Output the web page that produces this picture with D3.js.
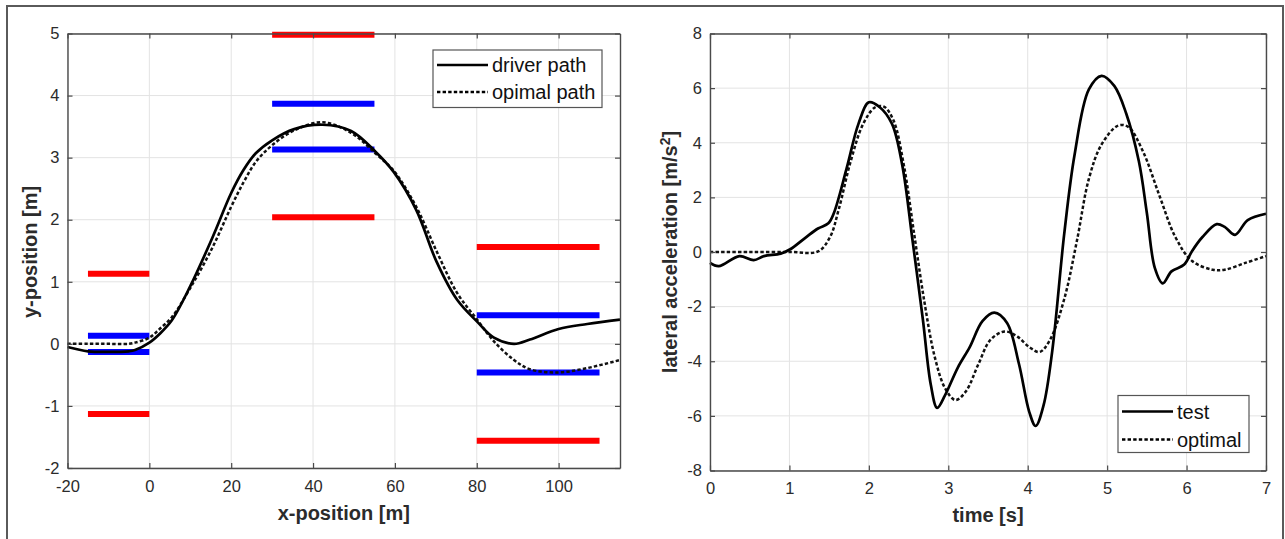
<!DOCTYPE html>
<html>
<head>
<meta charset="utf-8">
<script src="https://cdn.jsdelivr.net/npm/d3@7"></script>
<style>
  html, body { margin: 0; padding: 0; background: #fff; }
  svg { display: block; }
  text { font-family: "Liberation Sans", Arial, Helvetica, sans-serif; }
</style>
</head>
<body>
<svg id="fig" width="1285" height="539"></svg>
<script>
// ---- Left panel: vehicle path through the lane-change gates ----
const pathX      = [-20, -15, -10, -5, -3.5, 0, 2.5, 5.5, 10, 15.4, 20, 23, 26, 30, 35.4, 42.3, 49.3, 55.2, 59.7, 65.2, 70.2, 75.2, 80.2, 84.2, 89.1, 93, 100, 107, 115];
const driverPath = [-0.05, -0.12, -0.13, -0.12, -0.1, 0.02, 0.16, 0.38, 0.93, 1.71, 2.43, 2.8, 3.07, 3.28, 3.46, 3.53, 3.43, 3.10, 2.77, 2.16, 1.32, 0.71, 0.35, 0.10, 0.0, 0.07, 0.24, 0.32, 0.39];
const optimalPath = [0.0, 0.0, 0.0, 0.0, 0.02, 0.1, 0.24, 0.43, 0.9, 1.55, 2.21, 2.6, 2.93, 3.2, 3.44, 3.57, 3.40, 3.07, 2.79, 2.21, 1.49, 0.82, 0.38, 0.04, -0.26, -0.41, -0.46, -0.39, -0.26];

// gate boundaries: [x start, x end, y]
const outerCones = [[-15, 0, 1.13], [-15, 0, -1.13], [30, 55, 4.98], [30, 55, 2.04], [80, 110, 1.56], [80, 110, -1.56]];
const innerCones = [[-15, 0, 0.13], [-15, 0, -0.13], [30, 55, 3.87], [30, 55, 3.13], [80, 110, 0.46], [80, 110, -0.46]];

const leftXTicks = [-20, 0, 20, 40, 60, 80, 100];
const leftYTicks = [-2, -1, 0, 1, 2, 3, 4, 5];
const leftLegend = ["driver path", "opimal path"];

// ---- Right panel: lateral acceleration over time ----
const testT   = [0, 0.11, 0.37, 0.55, 0.68, 0.89, 1.01, 1.2, 1.36, 1.49, 1.56, 1.72, 1.87, 2.0, 2.13, 2.29, 2.42, 2.55, 2.68, 2.78, 2.86, 2.96, 3.12, 3.27, 3.43, 3.58, 3.74, 3.89, 4.02, 4.10, 4.2, 4.31, 4.46, 4.59, 4.77, 4.93, 5.09, 5.24, 5.4, 5.5, 5.6, 5.70, 5.81, 5.97, 6.07, 6.2, 6.38, 6.48, 6.61, 6.77, 7.0];
const testAcc = [-0.4, -0.52, -0.15, -0.3, -0.15, -0.06, 0.1, 0.52, 0.86, 1.05, 1.43, 3.06, 4.7, 5.48, 5.32, 4.7, 3.19, 0.42, -2.47, -4.86, -5.71, -5.24, -4.23, -3.48, -2.53, -2.22, -2.6, -4.1, -5.86, -6.37, -5.61, -3.6, 0.67, 3.56, 5.95, 6.45, 6.08, 5.07, 3.31, 1.43, -0.58, -1.15, -0.71, -0.46, 0.04, 0.55, 1.02, 0.92, 0.63, 1.17, 1.4];
const optT    = [0, 0.5, 1.0, 1.36, 1.51, 1.62, 1.77, 1.93, 2.08, 2.19, 2.31, 2.44, 2.57, 2.7, 2.83, 2.96, 3.09, 3.22, 3.38, 3.53, 3.71, 3.87, 4.02, 4.15, 4.28, 4.46, 4.62, 4.77, 4.93, 5.14, 5.27, 5.45, 5.66, 5.86, 6.07, 6.33, 6.48, 6.74, 7.0];
const optAcc  = [0, 0, 0, 0.02, 0.54, 1.55, 3.31, 4.7, 5.3, 5.32, 4.82, 3.19, 0.67, -1.84, -3.85, -4.99, -5.42, -5.11, -4.1, -3.22, -2.91, -3.1, -3.48, -3.66, -3.22, -1.72, 0.42, 2.68, 3.94, 4.63, 4.57, 3.69, 2.05, 0.54, -0.33, -0.65, -0.65, -0.4, -0.15];

const rightXTicks = [0, 1, 2, 3, 4, 5, 6, 7];
const rightYTicks = [-8, -6, -4, -2, 0, 2, 4, 6, 8];
const rightLegend = ["test", "optimal"];

const svg = d3.select("#fig");

// outer figure frame (open at the bottom)
svg.append("path")
  .attr("d", "M7,539 L7,6 L1283,6 L1283,539")
  .attr("fill", "none").attr("stroke", "#5a5a5a").attr("stroke-width", 2);

const axisColor = "#4a4a4a", gridColor = "#e3e3e3", labelColor = "#2b2b2b";
const dashPattern = "3.4,2.2";

function drawGrid(g, x, y, xTicks, yTicks) {
  const [x0, x1] = x.range(), [y0, y1] = y.range();
  g.append("g").selectAll("line").data(xTicks).join("line")
    .attr("x1", d => x(d)).attr("x2", d => x(d)).attr("y1", y1).attr("y2", y0)
    .attr("stroke", gridColor).attr("stroke-width", 1);
  g.append("g").selectAll("line").data(yTicks).join("line")
    .attr("y1", d => y(d)).attr("y2", d => y(d)).attr("x1", x0).attr("x2", x1)
    .attr("stroke", gridColor).attr("stroke-width", 1);
}

function drawAxes(g, x, y, xTicks, yTicks) {
  const [x0, x1] = x.range(), [y0, y1] = y.range();
  const tl = 5;
  const fmt = d => String(d);
  const style = sel => {
    sel.attr("font-family", null).attr("font-size", null);
    sel.select(".domain").attr("stroke", axisColor).attr("stroke-width", 1.4);
    sel.selectAll(".tick line").attr("stroke", axisColor).attr("stroke-width", 1.2);
    sel.selectAll(".tick text").attr("fill", labelColor).style("font-size", "16.5px");
  };
  g.append("g").attr("transform", `translate(0,${y0})`)
    .call(d3.axisBottom(x).tickValues(xTicks).tickSize(-tl).tickSizeOuter(0).tickPadding(12).tickFormat(fmt))
    .call(style);
  g.append("g").attr("transform", `translate(0,${y1})`)
    .call(d3.axisTop(x).tickValues(xTicks).tickSize(-tl).tickSizeOuter(0).tickFormat(""))
    .call(style);
  g.append("g").attr("transform", `translate(${x0},0)`)
    .call(d3.axisLeft(y).tickValues(yTicks).tickSize(-tl).tickSizeOuter(0).tickPadding(8).tickFormat(fmt))
    .call(style);
  g.append("g").attr("transform", `translate(${x1},0)`)
    .call(d3.axisRight(y).tickValues(yTicks).tickSize(-tl).tickSizeOuter(0).tickFormat(""))
    .call(style);
}

function drawLegend(g, box, names) {
  g.append("rect").attr("x", box.x).attr("y", box.y).attr("width", box.w).attr("height", box.h)
    .attr("fill", "#fff").attr("stroke", "#555").attr("stroke-width", 1.2);
  names.forEach((name, i) => {
    const cy = box.y + box.row0 + i * box.dy;
    g.append("line").attr("x1", box.x + 4).attr("x2", box.x + box.lineLen)
      .attr("y1", cy).attr("y2", cy)
      .attr("stroke", "#000").attr("stroke-width", i === 0 ? 2.7 : 2.5)
      .attr("stroke-dasharray", i === 0 ? null : dashPattern);
    g.append("text").attr("x", box.x + box.lineLen + 4).attr("y", cy + 7)
      .attr("fill", "#111").style("font-size", "20px").text(name);
  });
}

function axisTitle(g, x, y, rotate, parts) {
  const t = g.append("text")
    .attr("transform", `translate(${x},${y})` + (rotate ? " rotate(-90)" : ""))
    .attr("text-anchor", "middle").attr("fill", labelColor)
    .style("font-size", "20px").style("font-weight", "bold");
  parts.forEach(p => {
    const s = t.append("tspan").text(p.text);
    if (p.sup) s.attr("dy", -7).style("font-size", "14px");
    if (p.after) s.attr("dy", 7);
  });
}

const smooth = d3.curveCatmullRom.alpha(0.5);

// ---------- left panel ----------
{
  const x = d3.scaleLinear().domain([-20, 115]).range([67.5, 620]);
  const y = d3.scaleLinear().domain([-2, 5]).range([468, 33.5]);
  const g = svg.append("g");
  drawGrid(g, x, y, leftXTicks, leftYTicks);

  const cone = (data, color) => g.append("g").selectAll("line").data(data).join("line")
    .attr("x1", d => x(d[0])).attr("x2", d => x(d[1]))
    .attr("y1", d => y(d[2])).attr("y2", d => y(d[2]))
    .attr("stroke", color).attr("stroke-width", 6);
  cone(outerCones, "#ff0000");
  cone(innerCones, "#0000ff");

  const line = d3.line().x((d, i) => x(pathX[i])).y(d => y(d)).curve(smooth);
  g.append("path").attr("d", line(optimalPath)).attr("fill", "none")
    .attr("stroke", "#111").attr("stroke-width", 2.5).attr("stroke-dasharray", dashPattern);
  g.append("path").attr("d", line(driverPath)).attr("fill", "none")
    .attr("stroke", "#000").attr("stroke-width", 2.7);

  drawAxes(g, x, y, leftXTicks, leftYTicks);
  drawLegend(g, { x: 433, y: 50, w: 169, h: 57.5, row0: 15, dy: 27, lineLen: 55 }, leftLegend);

  axisTitle(g, (67.5 + 620) / 2, 520, false, [{ text: "x-position [m]" }]);
  axisTitle(g, 37, y(1.48), true, [{ text: "y-position [m]" }]);
}

// ---------- right panel ----------
{
  const x = d3.scaleLinear().domain([0, 7]).range([710, 1266]);
  const y = d3.scaleLinear().domain([-8, 8]).range([470.5, 33.5]);
  const g = svg.append("g");
  drawGrid(g, x, y, rightXTicks, rightYTicks);

  const optLine = d3.line().x((d, i) => x(optT[i])).y(d => y(d)).curve(smooth);
  const testLine = d3.line().x((d, i) => x(testT[i])).y(d => y(d)).curve(smooth);
  g.append("path").attr("d", optLine(optAcc)).attr("fill", "none")
    .attr("stroke", "#111").attr("stroke-width", 2.5).attr("stroke-dasharray", dashPattern);
  g.append("path").attr("d", testLine(testAcc)).attr("fill", "none")
    .attr("stroke", "#000").attr("stroke-width", 2.7);

  drawAxes(g, x, y, rightXTicks, rightYTicks);
  drawLegend(g, { x: 1118, y: 395.5, w: 131, h: 57, row0: 16, dy: 28, lineLen: 55 }, rightLegend);

  axisTitle(g, (710 + 1266) / 2, 522, false, [{ text: "time [s]" }]);
  axisTitle(g, 677, y(0), true, [
    { text: "lateral acceleration [m/s" },
    { text: "2", sup: true },
    { text: "]", after: true }
  ]);
}
</script>
</body>
</html>
